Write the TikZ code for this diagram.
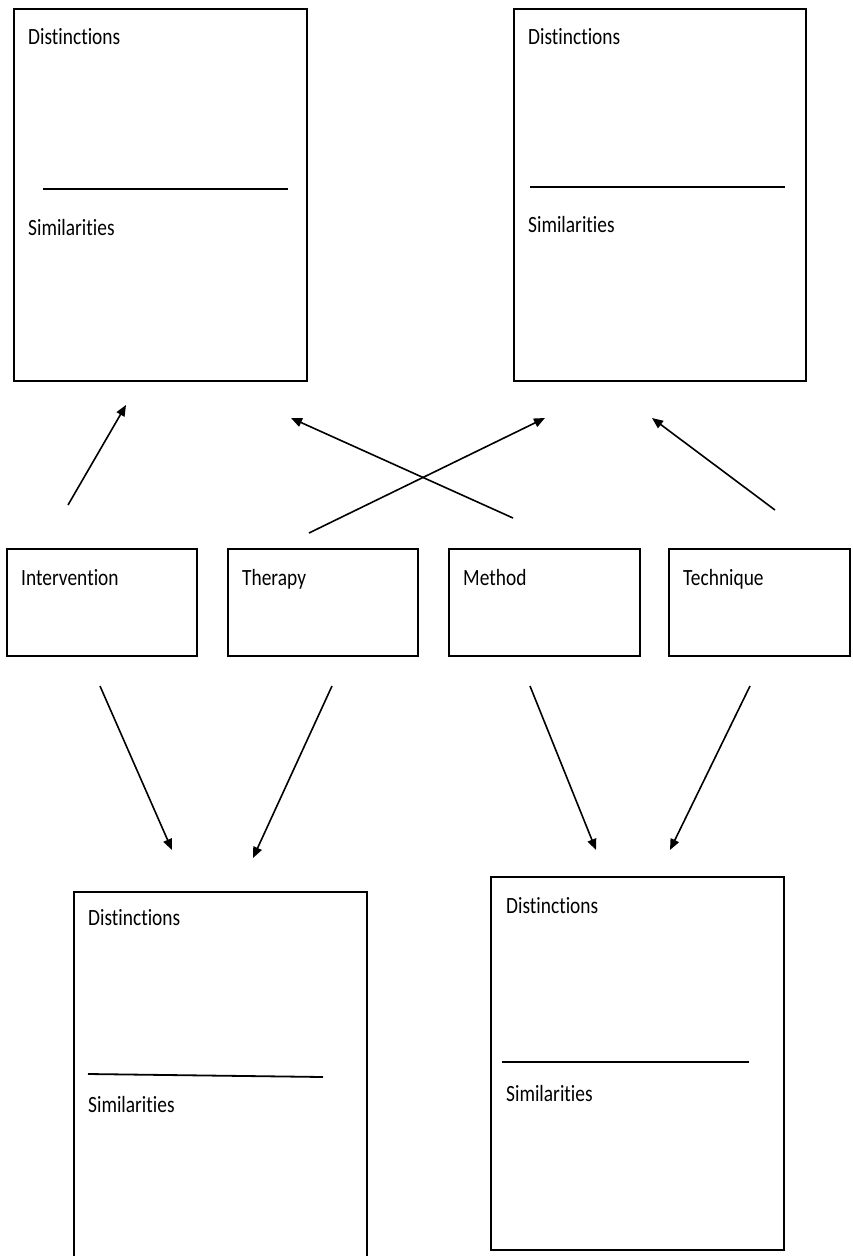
\documentclass[tikz,border=0pt]{standalone}
\usepackage{fontspec}
\setmainfont[Ligatures=NoCommon]{Carlito}
\usetikzlibrary{arrows.meta}
\begin{document}
\begin{tikzpicture}[x=1pt,y=-1pt,
  frame/.style={draw, line width=1.8pt, inner sep=0pt, outer sep=0pt, anchor=north west},
  openframe/.style={inner sep=0pt, outer sep=0pt, anchor=north west},
  lbl/.style={anchor=base west, inner sep=0pt, font=\fontsize{19.4}{22}\selectfont},
  divider/.style={line width=1.8pt},
  arr/.style={line width=1.6pt, -{Triangle[length=11pt,width=9pt]}}]
\useasboundingbox (0,0) rectangle (852,1256);
\fill[white] (0,0) rectangle (852,1256);

% top boxes
\node[frame, minimum width=293pt, minimum height=372pt] (tl) at (14,9) {};
\node[frame, minimum width=292pt, minimum height=372pt] (tr) at (514,9) {};
\node[lbl] (tld) at (28,44) {\scalebox{1}[1.2]{Distinctions}};
\node[lbl] (tls) at (28,235) {\scalebox{1}[1.2]{Similarities}};
\node[lbl] (trd) at (528,44) {\scalebox{1}[1.2]{Distinctions}};
\node[lbl] (trs) at (528,232) {\scalebox{1}[1.2]{Similarities}};
\draw[divider] (43,189) -- (288,189);
\draw[divider] (530,187) -- (785,187);

% middle boxes
\node[frame, minimum width=190pt, minimum height=107pt] (int) at (7,549) {};
\node[frame, minimum width=190pt, minimum height=107pt] (ther) at (228,549) {};
\node[frame, minimum width=191pt, minimum height=107pt] (meth) at (449,549) {};
\node[frame, minimum width=181pt, minimum height=107pt] (tech) at (669,549) {};
\node[lbl] (intl) at (21,585) {\scalebox{1}[1.2]{Intervention}};
\node[lbl] (therl) at (242,585) {\scalebox{1}[1.2]{Therapy}};
\node[lbl] (methl) at (463,585) {\scalebox{1}[1.2]{Method}};
\node[lbl] (techl) at (683,585) {\scalebox{1}[1.2]{Technique}};

% bottom boxes
\node[openframe, minimum width=293pt, minimum height=366pt] (bl) at (74,892) {};
\draw[line width=1.8pt] (bl.south west) -- (bl.north west) -- (bl.north east) -- (bl.south east);
\node[frame, minimum width=293pt, minimum height=373pt] (br) at (491,877) {};
\node[lbl] (bld) at (88,925) {\scalebox{1}[1.2]{Distinctions}};
\node[lbl] (bls) at (88,1112) {\scalebox{1}[1.2]{Similarities}};
\node[lbl] (brd) at (506,913) {\scalebox{1}[1.2]{Distinctions}};
\node[lbl] (brs) at (506,1101) {\scalebox{1}[1.2]{Similarities}};
\draw[divider] (88,1074) -- (323,1077);
\draw[divider] (502,1062) -- (749,1062);

% arrow ends
\coordinate (a1s) at (68,505);  \coordinate (a1e) at (126,405);
\coordinate (a2s) at (513,518); \coordinate (a2e) at (291,418);
\coordinate (a3s) at (309,533); \coordinate (a3e) at (545,418);
\coordinate (a4s) at (775,510); \coordinate (a4e) at (652,418);
\coordinate (b1s) at (100,686); \coordinate (b1e) at (172,850);
\coordinate (b2s) at (332,686); \coordinate (b2e) at (253,858);
\coordinate (b3s) at (530,686); \coordinate (b3e) at (596,850);
\coordinate (b4s) at (750,686); \coordinate (b4e) at (670,850);

\draw[arr] (a1s) -- (a1e);
\draw[arr] (a2s) -- (a2e);
\draw[arr] (a3s) -- (a3e);
\draw[arr] (a4s) -- (a4e);
\draw[arr] (b1s) -- (b1e);
\draw[arr] (b2s) -- (b2e);
\draw[arr] (b3s) -- (b3e);
\draw[arr] (b4s) -- (b4e);
\end{tikzpicture}
\end{document}
